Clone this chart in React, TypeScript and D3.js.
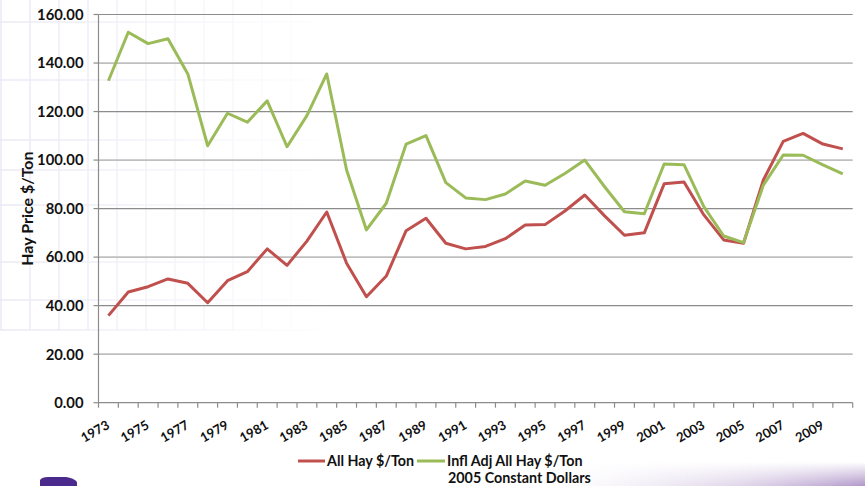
import React from "react";
import * as d3 from "d3";

const years: number[] = [
  1973, 1974, 1975, 1976, 1977, 1978, 1979, 1980, 1981, 1982, 1983, 1984, 1985,
  1986, 1987, 1988, 1989, 1990, 1991, 1992, 1993, 1994, 1995, 1996, 1997, 1998,
  1999, 2000, 2001, 2002, 2003, 2004, 2005, 2006, 2007, 2008, 2009, 2010,
];

const allHay: number[] = [
  35.9, 45.6, 47.8, 51.0, 49.2, 41.2, 50.3, 54.0, 63.4, 56.6, 66.6, 78.6, 57.5,
  43.7, 52.2, 70.9, 76.0, 65.7, 63.4, 64.4, 67.6, 73.2, 73.4, 79.0, 85.6, 77.0,
  69.0, 70.0, 90.2, 91.0, 77.4, 67.1, 65.7, 91.8, 107.7, 111.0, 106.6, 104.6,
];

const inflAdj: number[] = [
  132.7, 152.7, 148.0, 150.0, 135.5, 105.9, 119.3, 115.6, 124.4, 105.5, 118.3,
  135.5, 95.9, 71.2, 82.2, 106.6, 110.1, 90.7, 84.4, 83.7, 86.0, 91.4, 89.6,
  94.5, 100.0, 89.0, 78.7, 77.9, 98.4, 98.1, 80.8, 68.7, 66.0, 89.7, 102.1,
  102.0, 98.0, 94.3,
];

const yTicks: number[] = [0, 20, 40, 60, 80, 100, 120, 140, 160];
const seriesNames: string[] = ["All Hay $/Ton", "Infl Adj All Hay $/Ton"];
const legendSubtitle = "2005 Constant Dollars";
const yTitle = "Hay Price $/Ton";

const W = 865;
const H = 486;
const plot = { left: 98.5, right: 852.7, top: 14.5, bottom: 402.7 };
const RED = "#c0504d";
const GREEN = "#9bbb59";
const FONT = "Lato, 'Open Sans', sans-serif";

export default function App() {
  const x = d3
    .scaleBand<number>()
    .domain(years)
    .range([plot.left, plot.right])
    .padding(0);
  const y = d3.scaleLinear().domain([0, 160]).range([plot.bottom, plot.top]);
  const cx = (yr: number) => (x(yr) as number) + x.bandwidth() / 2;

  const line = d3
    .line<number>()
    .x((_, i) => cx(years[i]))
    .y((d) => y(d));

  const bgV = d3.range(0, 12).map((i) => i * 29 + 1);
  const bgH = [22, 80, 140, 170, 205, 262, 300, 330];

  return (
    <svg
      width={W}
      height={H}
      style={{ position: "absolute", left: 0, top: 0, background: "#fff" }}
      fontFamily={FONT}
    >
      <defs>
        <linearGradient id="fadeR" x1="0" x2="1" y1="0" y2="0">
          <stop offset="0" stopColor="#fff" stopOpacity="1" />
          <stop offset="1" stopColor="#fff" stopOpacity="0" />
        </linearGradient>
        <mask id="bgMask">
          <rect x={0} y={0} width={340} height={H} fill="url(#fadeR)" />
        </mask>
        <linearGradient id="purpleBR" x1="0" x2="1" y1="0" y2="0">
          <stop offset="0" stopColor="#d8cce4" stopOpacity="0" />
          <stop offset="0.6" stopColor="#cbb9dc" stopOpacity="0.6" />
          <stop offset="1" stopColor="#a98cc4" stopOpacity="0.9" />
        </linearGradient>
        <linearGradient id="purpleV" x1="0" x2="0" y1="0" y2="1">
          <stop offset="0" stopColor="#fff" stopOpacity="0" />
          <stop offset="1" stopColor="#fff" stopOpacity="1" />
        </linearGradient>
        <mask id="brMask">
          <rect x={560} y={462} width={305} height={24} fill="url(#purpleV)" />
        </mask>
      </defs>

      {/* faint slide background grid */}
      <g mask="url(#bgMask)" stroke="#ebe8f4" strokeWidth={1.5}>
        {bgV.map((v) => (
          <line key={"v" + v} x1={v} x2={v} y1={0} y2={330} />
        ))}
        {bgH.map((h) => (
          <line key={"h" + h} x1={0} x2={340} y1={h} y2={h} />
        ))}
      </g>

      {/* bottom-right purple glow */}
      <rect x={560} y={462} width={305} height={24} fill="url(#purpleBR)" mask="url(#brMask)" />
      {/* bottom-left purple shape */}
      <path d="M40,486 L40,480 Q42,477 48,477 L66,477 Q74,478 77,482 L77,486 Z" fill="#4a2a8c" />

      {/* grid lines */}
      {yTicks.map((t, i) => (
        <line
          key={"g" + t}
          x1={plot.left}
          x2={plot.right}
          y1={y(t)}
          y2={y(t)}
          stroke={i % 2 === 0 ? "#8c8c8c" : "#bfbfbf"}
          strokeWidth={i % 2 === 0 ? 1.2 : 1.8}
        />
      ))}

      {/* y axis */}
      <line x1={plot.left} x2={plot.left} y1={plot.top} y2={plot.bottom} stroke="#8c8c8c" strokeWidth={1.2} />
      {yTicks.map((t) => (
        <g key={"yt" + t}>
          <line x1={plot.left - 5} x2={plot.left} y1={y(t)} y2={y(t)} stroke="#8c8c8c" strokeWidth={1.2} />
          <text
            x={83.5}
            y={y(t)}
            dy="0.36em"
            textAnchor="end"
            fontSize={14.8}
            fontWeight="bold"
            fill="#111"
          >
            {d3.format(".2f")(t)}
          </text>
        </g>
      ))}

      {/* x axis */}
      {years.map((yr) => (
        <line
          key={"xt" + yr}
          x1={x(yr) as number}
          x2={x(yr) as number}
          y1={plot.bottom}
          y2={plot.bottom + 5}
          stroke="#8c8c8c"
          strokeWidth={1.2}
        />
      ))}
      <line
        x1={plot.right}
        x2={plot.right}
        y1={plot.bottom}
        y2={plot.bottom + 5}
        stroke="#8c8c8c"
        strokeWidth={1.2}
      />
      {years
        .filter((_, i) => i % 2 === 0)
        .map((yr) => (
          <text
            key={"xl" + yr}
            transform={`translate(${cx(yr) + 2},${plot.bottom + 25}) rotate(-30)`}
            textAnchor="end"
            fontSize={13}
            fontWeight="bold"
            fill="#111"
          >
            {yr}
          </text>
        ))}

      {/* y title */}
      <text
        transform={`translate(33,${(plot.top + plot.bottom) / 2}) rotate(-90)`}
        textAnchor="middle"
        fontSize={16}
        fontWeight="bold"
        fill="#111"
      >
        {yTitle}
      </text>

      {/* series */}
      <path d={line(allHay) as string} fill="none" stroke={RED} strokeWidth={3} strokeLinejoin="round" />
      <path d={line(inflAdj) as string} fill="none" stroke={GREEN} strokeWidth={3} strokeLinejoin="round" />

      {/* legend */}
      <line x1={298} x2={325} y1={461} y2={461} stroke={RED} strokeWidth={3} />
      <text x={327} y={461} dy="0.36em" fontSize={14.3} fontWeight="bold" fill="#111">
        {seriesNames[0]}
      </text>
      <line x1={417} x2={445} y1={461} y2={461} stroke={GREEN} strokeWidth={3} />
      <text x={447} y={461} dy="0.36em" fontSize={14.3} fontWeight="bold" fill="#111">
        {seriesNames[1]}
      </text>
      <text x={448} y={478} dy="0.36em" fontSize={14.3} fontWeight="bold" fill="#111">
        {legendSubtitle}
      </text>
    </svg>
  );
}
